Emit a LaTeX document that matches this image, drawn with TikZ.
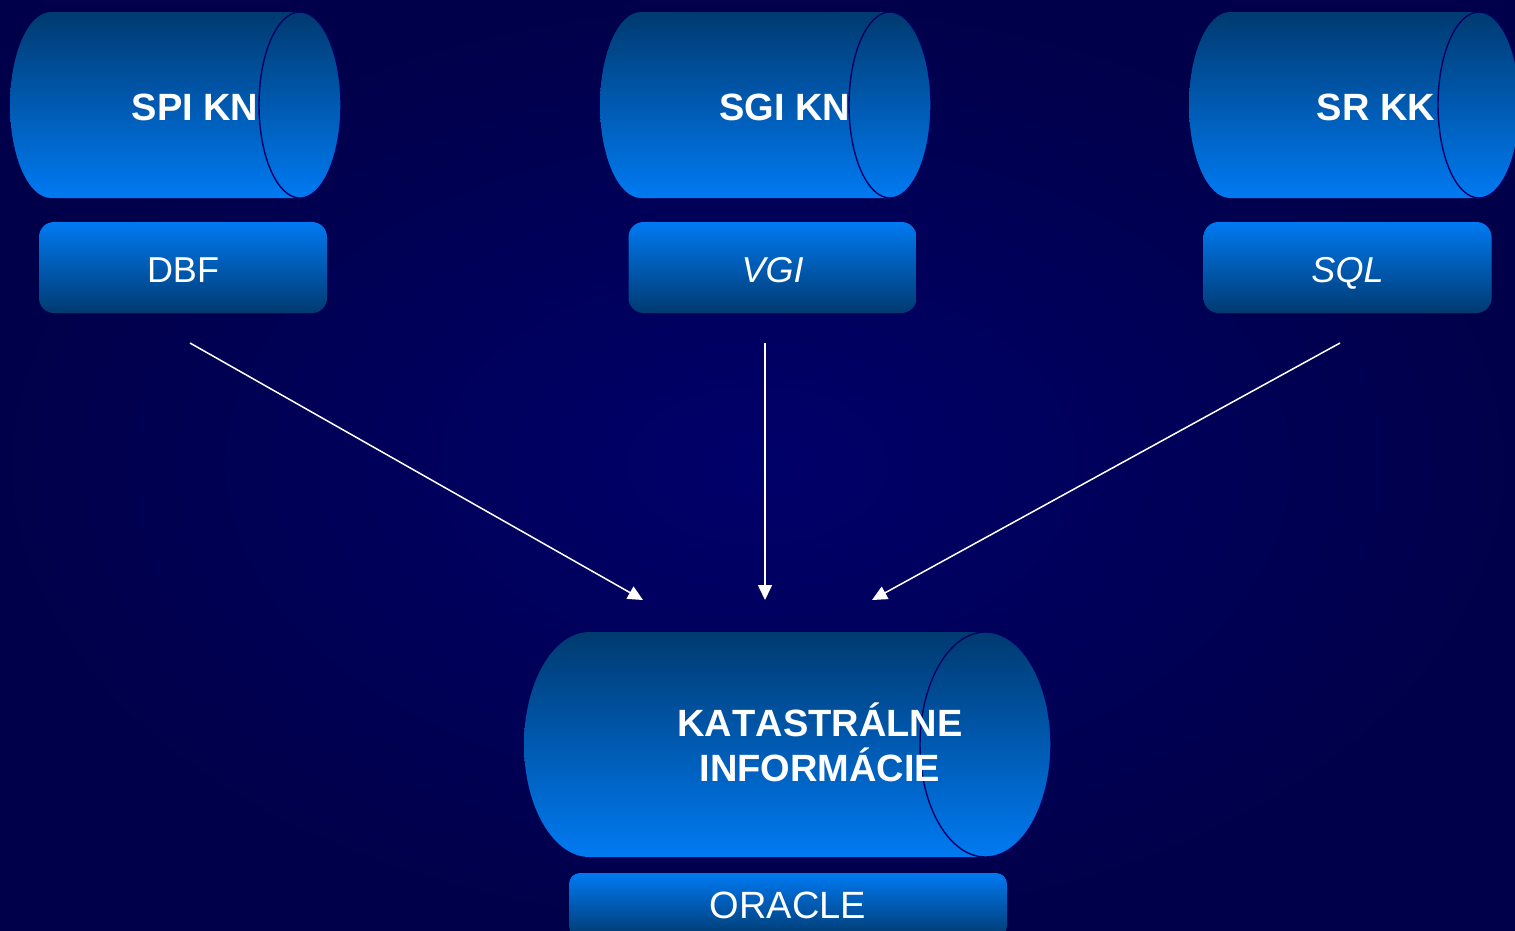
\documentclass[tikz,border=0pt]{standalone}
\usepackage{fontspec}
\setmainfont{Liberation Sans}[Kerning=Off]
\usetikzlibrary{arrows.meta}
\definecolor{bgin}{RGB}{0,0,106}
\definecolor{bgout}{RGB}{0,0,74}
\definecolor{darkblue}{RGB}{0,58,112}
\definecolor{brightblue}{RGB}{0,122,242}
\definecolor{rimline}{RGB}{0,0,100}
\newcommand\mycyl[5]{%
  \shade[cylshade] (#2,#3-#4) -- (#1,#3-#4)
    arc[start angle=270,end angle=90,x radius=#5,y radius=#4]
    -- (#2,#3+#4)
    arc[start angle=90,end angle=-90,x radius=#5,y radius=#4] -- cycle;
  \draw[rim] (#2,#3) ellipse [x radius=#5, y radius=#4];
}
\begin{document}
\begin{tikzpicture}[x=1pt,y=-1pt,
  cylshade/.style={top color=darkblue, bottom color=brightblue},
  rim/.style={draw=rimline, line width=1.4pt},
  cyltext/.style={text=white, font=\fontsize{38}{45}\selectfont\bfseries, inner sep=0pt},
  boxnode/.style={top color=brightblue, bottom color=darkblue, rounded corners=15pt,
    minimum width=288pt, minimum height=91pt, text=white, inner sep=0pt,
    text height=29pt, text depth=0pt, font=\fontsize{36}{42}\selectfont},
  flow/.style={draw=white, line width=1.5pt, -{Triangle[length=15pt,width=14pt]}}
]
\useasboundingbox (0,0) rectangle (1515,930);
\clip (0,0) rectangle (1515,930);
\shade[inner color=bgin, outer color=bgout] (0,0) rectangle (1515,930);

% cylinders
\mycyl{51}{300}{105}{93}{41}
\mycyl{641}{890}{105}{93}{41}
\mycyl{1230}{1479}{105}{93}{41}
\mycyl{589.5}{985.5}{744.5}{112.5}{65.5}

\node[cyltext, anchor=base] (spi) at (195,120) {SPI KN};
\node[cyltext, anchor=base] (sgi) at (785,120) {SGI KN};
\node[cyltext, anchor=base] (srkk) at (1376,120) {SR KK};
\node[cyltext, align=center] (kat) at (820,742) {KATASTRÁLNE\\INFORMÁCIE};

% format boxes
\node[boxnode] (dbf) at (183,267.5) {DBF};
\node[boxnode] (vgi) at (772.5,267.5) {\itshape VGI};
\node[boxnode] (sql) at (1347.5,267.5) {\itshape SQL};
\node[boxnode, minimum width=438pt, minimum height=64pt, rounded corners=11pt,
  text height=26pt, font=\fontsize{38}{44}\selectfont] (oracle) at (788,905) {ORACLE};

% connectors
\coordinate (s1) at (190,343);
\coordinate (s2) at (765,343);
\coordinate (s3) at (1340,343);
\coordinate (e1) at (643,600);
\coordinate (e2) at (765,600);
\coordinate (e3) at (872,600);
\draw[flow] (s1) -- (e1);
\draw[flow] (s2) -- (e2);
\draw[flow] (s3) -- (e3);
\end{tikzpicture}
\end{document}
